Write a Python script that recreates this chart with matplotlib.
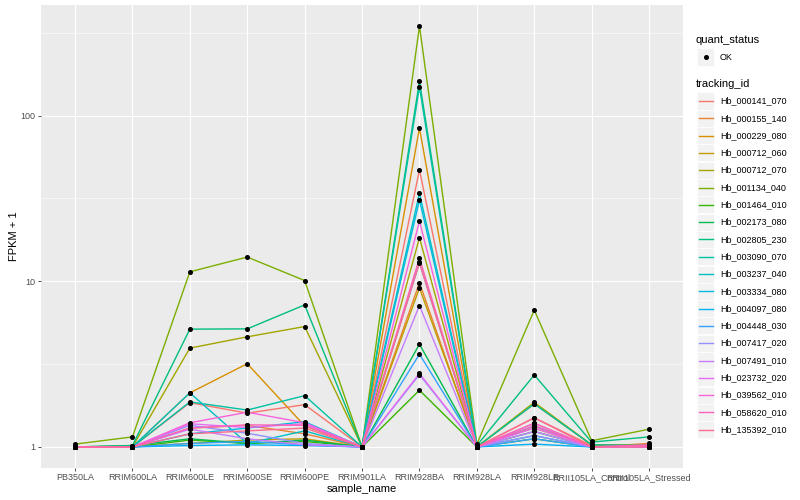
import numpy as np
import matplotlib
matplotlib.use("Agg")
import matplotlib.pyplot as plt
from matplotlib.lines import Line2D
from matplotlib.patches import Rectangle

plt.rcParams["font.family"] = ["Liberation Sans", "DejaVu Sans"]

samples = ["PB350LA", "RRIM600LA", "RRIM600LE", "RRIM600SE", "RRIM600PE",
           "RRIM901LA", "RRIM928BA", "RRIM928LA", "RRIM928LE",
           "RRII105LA_Control", "RRII105LA_Stressed"]

tracking_ids = ["Hb_000141_070", "Hb_000155_140", "Hb_000229_080", "Hb_000712_060",
                "Hb_000712_070", "Hb_001134_040", "Hb_001464_010", "Hb_002173_080",
                "Hb_002805_230", "Hb_003090_070", "Hb_003237_040", "Hb_003334_080",
                "Hb_004097_080", "Hb_004448_030", "Hb_007417_020", "Hb_007491_010",
                "Hb_023732_020", "Hb_039562_010", "Hb_058620_010", "Hb_135392_010"]

# ggplot default hue palette for 20 levels
colors = ["#F8766D", "#EA8331", "#D89000", "#C09B00", "#A3A500", "#7CAE00",
          "#39B600", "#00BB4E", "#00BF7D", "#00C1A3", "#00BFC4", "#00BAE0",
          "#00B0F6", "#35A2FF", "#9590FF", "#C77CFF", "#E76BF3", "#FA62DB",
          "#FF62BC", "#FF6C91"]

# FPKM + 1, one list per gene, in sample order
fpkm_plus1 = {
    "Hb_000141_070": [1.0, 1.0, 1.85, 1.60, 1.80, 1.0, 47.0, 1.0, 1.50, 1.02, 1.03],
    "Hb_000155_140": [1.0, 1.0, 1.30, 1.35, 1.20, 1.0, 9.8, 1.0, 1.39, 1.0, 1.05],
    "Hb_000229_080": [1.0, 1.0, 2.12, 3.18, 1.34, 1.0, 84.0, 1.0, 1.82, 1.03, 1.02],
    "Hb_000712_060": [1.0, 1.0, 1.05, 1.10, 1.12, 1.0, 9.1, 1.02, 1.30, 1.0, 1.02],
    "Hb_000712_070": [1.0, 1.0, 3.95, 4.62, 5.33, 1.0, 18.3, 1.0, 1.86, 1.03, 1.03],
    "Hb_001134_040": [1.04, 1.15, 11.4, 14.0, 10.1, 1.0, 347.0, 1.04, 6.7, 1.09, 1.28],
    "Hb_001464_010": [1.0, 1.0, 1.10, 1.05, 1.08, 1.0, 2.2, 1.0, 1.12, 1.0, 1.0],
    "Hb_002173_080": [1.0, 1.02, 1.12, 1.05, 1.10, 1.0, 4.17, 1.0, 1.24, 1.0, 1.0],
    "Hb_002805_230": [1.0, 1.02, 5.14, 5.16, 7.2, 1.0, 161.0, 1.02, 2.72, 1.07, 1.15],
    "Hb_003090_070": [1.0, 1.0, 1.87, 1.67, 2.04, 1.0, 149.0, 1.0, 1.82, 1.03, 1.02],
    "Hb_003237_040": [1.0, 1.0, 2.12, 1.05, 1.25, 1.0, 34.0, 1.0, 1.34, 1.0, 1.02],
    "Hb_003334_080": [1.0, 1.0, 1.20, 1.30, 1.42, 1.0, 31.0, 1.0, 1.17, 1.0, 1.0],
    "Hb_004097_080": [1.0, 1.0, 1.02, 1.03, 1.02, 1.0, 13.0, 1.0, 1.04, 1.0, 1.0],
    "Hb_004448_030": [1.0, 1.0, 1.05, 1.08, 1.03, 1.0, 3.63, 1.0, 1.12, 1.0, 1.0],
    "Hb_007417_020": [1.0, 1.0, 1.35, 1.21, 1.05, 1.0, 2.73, 1.0, 1.17, 1.0, 1.0],
    "Hb_007491_010": [1.0, 1.0, 1.28, 1.12, 1.03, 1.0, 7.14, 1.0, 1.24, 1.0, 1.0],
    "Hb_023732_020": [1.0, 1.0, 1.38, 1.31, 1.38, 1.0, 2.78, 1.0, 1.30, 1.0, 1.0],
    "Hb_039562_010": [1.0, 1.0, 1.40, 1.62, 1.40, 1.0, 23.1, 1.0, 1.39, 1.0, 1.02],
    "Hb_058620_010": [1.0, 1.0, 1.30, 1.36, 1.35, 1.0, 13.8, 1.0, 1.34, 1.0, 1.03],
    "Hb_135392_010": [1.0, 1.0, 1.20, 1.25, 1.30, 1.0, 12.9, 1.0, 1.50, 1.0, 1.0],
}

W, H = 800, 500


def px(x, y):
    return x / W, 1 - y / H


fig = plt.figure(figsize=(8, 5), dpi=100)
fig.patch.set_facecolor("white")
left, right, top, bottom = 40.6, 683.5, 5, 468
ax = fig.add_axes([left / W, 1 - bottom / H, (right - left) / W, (bottom - top) / H])
ax.set_facecolor("#EBEBEB")

x = np.arange(len(samples))
for tid, col in zip(tracking_ids, colors):
    ax.plot(x, fpkm_plus1[tid], color=col, lw=1.0, zorder=3, solid_capstyle="butt")
for tid in tracking_ids:
    ax.plot(x, fpkm_plus1[tid], ls="none", marker="o", ms=2.6, mec="black",
            mfc="black", zorder=4)

ax.set_yscale("log")
allv = np.concatenate([fpkm_plus1[t] for t in tracking_ids])
lo, hi = np.log10(allv.min()), np.log10(allv.max())
pad = 0.05 * (hi - lo)
ax.set_ylim(10 ** (lo - pad), 10 ** (hi + pad))
ax.set_xlim(-0.6, len(samples) - 0.4)

ax.set_yticks([1, 10, 100])
ax.set_yticklabels(["1", "10", "100"])
ax.set_yticks([10 ** 0.5, 10 ** 1.5, 10 ** 2.5], minor=True)
ax.set_yticklabels([], minor=True)
ax.set_xticks(x)
ax.set_xticklabels(samples)

ax.grid(which="major", color="white", lw=0.8)
ax.grid(which="minor", axis="y", color="white", lw=0.4)
ax.set_axisbelow(True)
for s in ax.spines.values():
    s.set_visible(False)
ax.tick_params(which="major", length=2.0, width=0.6, color="#333333",
               labelsize=6.5, labelcolor="#4D4D4D", pad=1.8)
ax.tick_params(which="minor", length=0)

ax.set_xlabel("sample_name", fontsize=8, labelpad=1.5)
ax.set_ylabel("FPKM + 1", fontsize=8, labelpad=1)

# legend: quant_status
fig.text(*px(696, 40), "quant_status", fontsize=8, va="center", ha="left")
kx, kw = 697, 17
fig.patches.append(Rectangle(px(kx, 57 + kw / 2), kw / W, kw / H, transform=fig.transFigure,
                             facecolor="#F2F2F2", edgecolor="white", lw=0.5))
fig.lines.append(Line2D([px(kx + kw / 2, 57)[0]], [px(kx + kw / 2, 57)[1]], marker="o",
                        ms=2.6, color="black", transform=fig.transFigure))
fig.text(*px(720, 57), "OK", fontsize=6.5, va="center", ha="left")

# legend: tracking_id
fig.text(*px(696, 84), "tracking_id", fontsize=8, va="center", ha="left")
for i, (tid, col) in enumerate(zip(tracking_ids, colors)):
    yc = 101 + i * 17.3
    fig.patches.append(Rectangle(px(kx, yc + kw / 2), kw / W, kw / H,
                                 transform=fig.transFigure,
                                 facecolor="#F2F2F2", edgecolor="white", lw=0.5))
    x0, y0 = px(kx + 1.5, yc)
    x1, _ = px(kx + kw - 1.5, yc)
    fig.lines.append(Line2D([x0, x1], [y0, y0], color=col, lw=1.0,
                            transform=fig.transFigure))
    fig.text(*px(720, yc), tid, fontsize=6.5, va="center", ha="left")

fig.savefig("out.png", dpi=100)
